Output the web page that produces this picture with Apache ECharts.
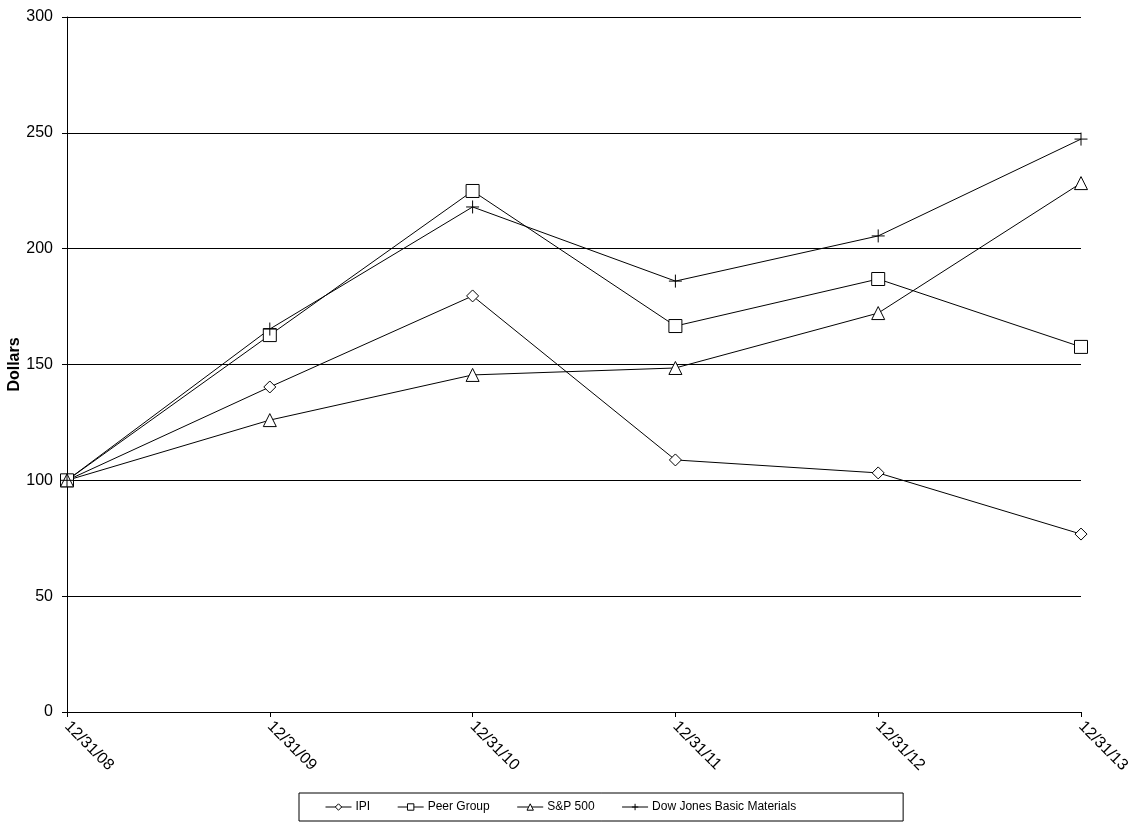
<!DOCTYPE html>
<html><head><meta charset="utf-8">
<script src="https://cdn.jsdelivr.net/npm/echarts@6/dist/echarts.min.js"></script>
<style>html,body{margin:0;padding:0;background:#fff}#c{width:1137px;height:826px}</style>
</head><body><div id="c"></div>
<script>
var categories = ['12/31/08','12/31/09','12/31/10','12/31/11','12/31/12','12/31/13'];
var ipi = [100, 140.3, 179.6, 108.8, 103.2, 76.8];
var peer = [100, 162.7, 224.9, 166.6, 186.9, 157.6];
var sp500 = [100, 126.0, 145.5, 148.5, 172.2, 228.3];
var dowJones = [100, 165.3, 218.0, 186.0, 205.5, 247.3];
var yTicks = [0, 50, 100, 150, 200, 250, 300];

var FONT = 'Liberation Sans, Arial, sans-serif';
var plusPath = 'path://M0,5L10,5M5,0L5,10';
function mk(name, data, symbol, size) {
  return {
    name: name, type: 'line', data: data, symbol: symbol, symbolSize: size,
    showAllSymbol: true,
    lineStyle: {color: '#000', width: 1},
    itemStyle: {color: '#fff', borderColor: '#000', borderWidth: 1},
    emphasis: {disabled: true}, animation: false
  };
}
var chart = echarts.init(document.getElementById('c'));
chart.setOption({
  animation: false,
  textStyle: {fontFamily: FONT},
  grid: {left: 67, right: 56, top: 17, bottom: 114, containLabel: false, outerBoundsMode: 'none'},
  legend: {
    top: 793, left: 299, itemWidth: 26, itemHeight: 8, itemGap: 27,
    padding: [8, 107, 8, 26],
    borderColor: '#000', borderWidth: 1, borderRadius: 0,
    lineStyle: {width: 1},
    itemStyle: {color: '#fff', borderColor: '#000', borderWidth: 1},
    textStyle: {fontSize: 12, color: '#000', fontFamily: FONT, padding: [0, 0, 0, -1]},
    data: ['IPI', 'Peer Group', 'S&P 500', 'Dow Jones Basic Materials']
  },
  xAxis: {
    type: 'category', data: categories, boundaryGap: false,
    axisLine: {lineStyle: {color: '#000', width: 1}},
    axisTick: {show: true, length: 5, lineStyle: {color: '#000'}},
    axisLabel: {rotate: -45, fontSize: 16, color: '#000', margin: 12, fontFamily: FONT}
  },
  yAxis: {
    type: 'value', min: 0, max: 300, interval: 50,
    name: 'Dollars', nameLocation: 'middle', nameGap: 44, nameMoveOverlap: false,
    nameTextStyle: {fontSize: 16, fontWeight: 'bold', color: '#000', fontFamily: FONT},
    axisLine: {show: true, lineStyle: {color: '#000', width: 1}},
    axisTick: {show: true, length: 5, lineStyle: {color: '#000'}},
    axisLabel: {fontSize: 16, color: '#000', margin: 14, fontFamily: FONT,
      formatter: function(v){ return yTicks.indexOf(v) >= 0 ? String(v) : ''; }},
    splitLine: {show: true, lineStyle: {color: '#000', width: 1}}
  },
  series: [
    mk('IPI', ipi, 'diamond', 12),
    mk('Peer Group', peer, 'rect', 13),
    mk('S&P 500', sp500, 'triangle', 13),
    mk('Dow Jones Basic Materials', dowJones, plusPath, 13)
  ]
});
</script></body></html>
